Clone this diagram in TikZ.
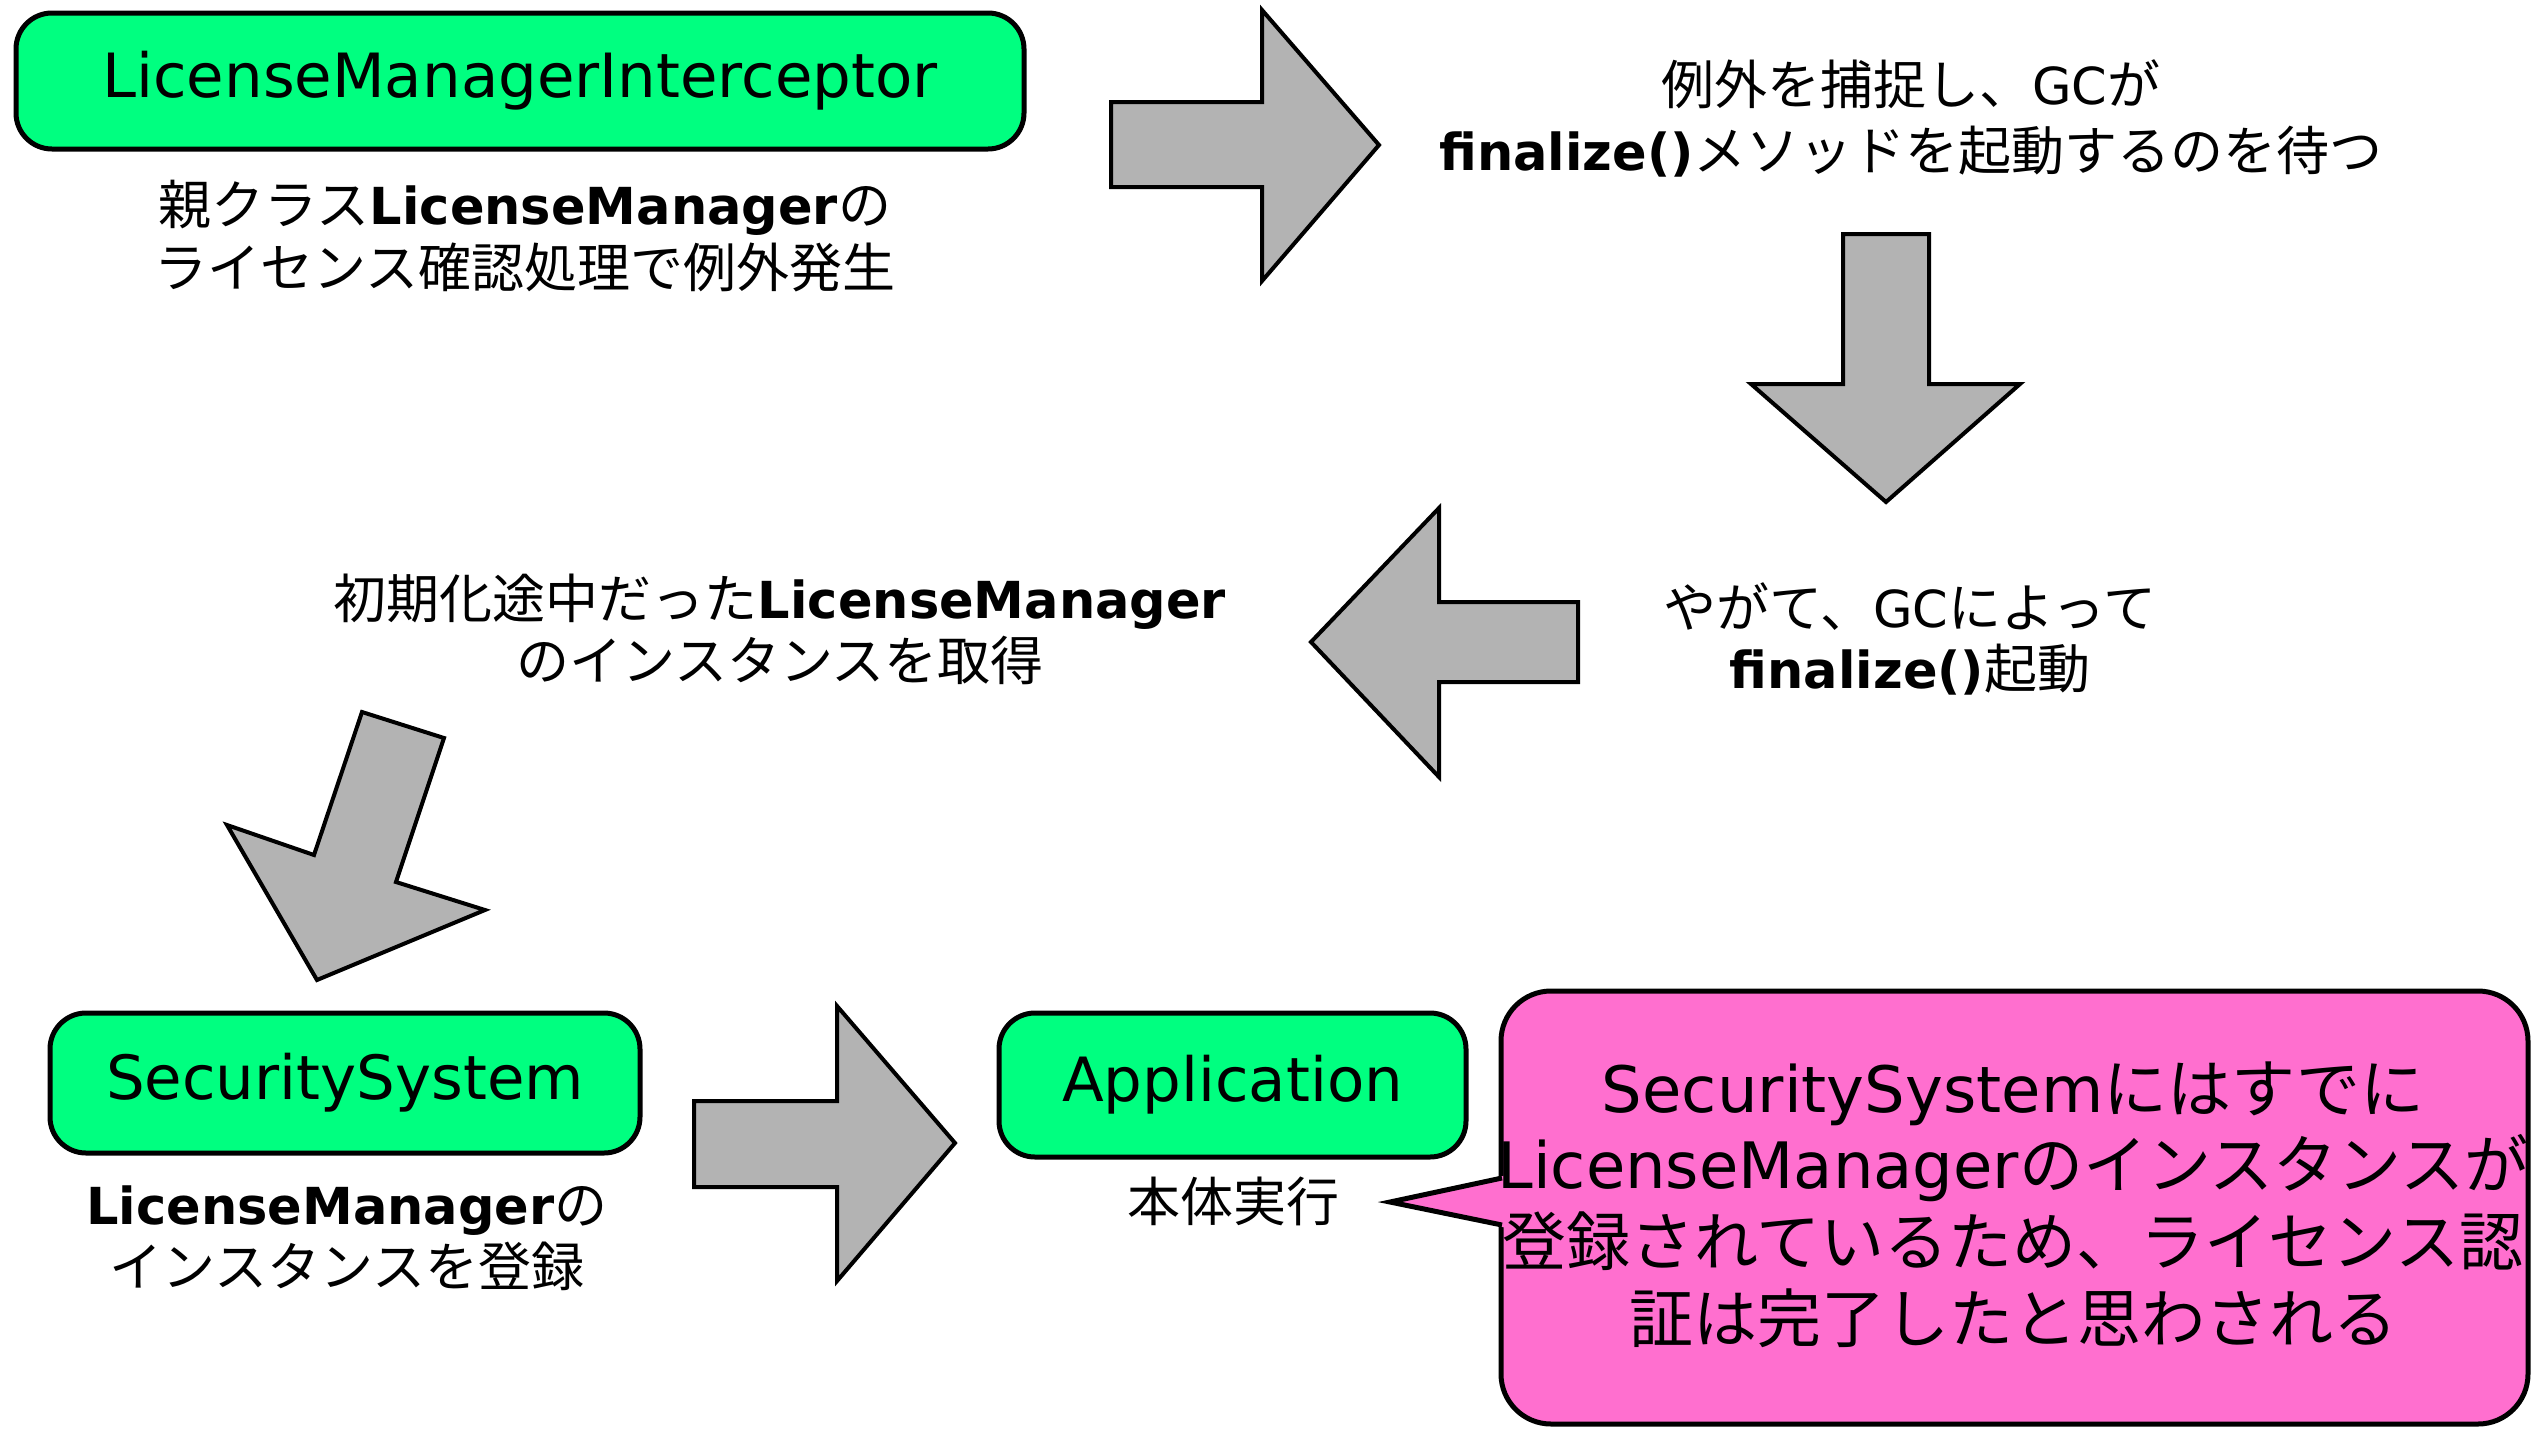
\documentclass[tikz,border=0pt]{standalone}
\usepackage{fontspec}
\setmainfont{DejaVu Sans}
\newfontfamily\jp{Noto Sans CJK JP}
\def\jfs{51}
\newcommand\J[1]{{\fontsize{\jfs}{62}\selectfont\jp #1}}
\definecolor{boxgreen}{RGB}{0,255,128}
\definecolor{calloutpink}{RGB}{255,111,207}
\definecolor{arrowgray}{RGB}{179,179,179}
\begin{document}
\begin{tikzpicture}[x=1pt,y=-1pt,
  greenbox/.style={draw=black, line width=5pt, fill=boxgreen, rounded corners=36pt, inner sep=0pt, font=\fontsize{61}{73}\selectfont},
  blockarrow/.style={draw=black, line width=4pt, fill=arrowgray, line join=miter},
  lbl/.style={anchor=base, inner sep=0pt, font=\fontsize{51}{62}\selectfont\def\jfs{53}},
  clbl/.style={anchor=base, inner sep=0pt, font=\fontsize{64}{77}\selectfont\def\jfs{64}}]
\useasboundingbox (0,0) rectangle (2533,1428);
\fill[white] (0,0) rectangle (2533,1428);

% boxes
\node[greenbox, minimum width=1008pt, minimum height=136pt] (lmi) at (520,81) {LicenseManagerInterceptor};
\node[greenbox, minimum width=590pt, minimum height=140pt] (sec) at (345,1083) {SecuritySystem};
\node[greenbox, minimum width=467pt, minimum height=144pt] (app) at (1232.5,1085) {Application};

% callout
\node[draw=black, line width=5pt, fill=calloutpink, rounded corners=50pt, minimum width=1027pt, minimum height=433pt, inner sep=0pt] (call) at (2014.5,1207.5) {};
\coordinate (ctip) at (1390,1202);
\fill[calloutpink] (ctip) -- (1507,1175) -- (1507,1228) -- cycle;
\draw[line width=5pt, line join=miter] (1502,1178) -- (ctip) -- (1502,1225);

% block arrows
\draw[blockarrow] (1111,102) -- (1262,102) -- (1262,10) -- (1379,145) -- (1262,281) -- (1262,187) -- (1111,187) -- cycle;
\draw[blockarrow] (1843,234) -- (1929,234) -- (1929,384) -- (2020,384) -- (1886,502) -- (1751,384) -- (1843,384) -- cycle;
\draw[blockarrow] (1578,602) -- (1439,602) -- (1439,508) -- (1311,642) -- (1439,777) -- (1439,682) -- (1578,682) -- cycle;
\draw[blockarrow] (362,712) -- (444,738) -- (396,882) -- (485,910) -- (317,980) -- (227,825) -- (314,855) -- cycle;
\draw[blockarrow] (694,1101) -- (837,1101) -- (837,1006) -- (955,1143) -- (837,1281) -- (837,1187) -- (694,1187) -- cycle;

% labels
\node[lbl] (l1a) at (525,224) {\J{親クラス}\textbf{LicenseManager}\J{の}};
\node[lbl] (l1b) at (525,287) {\J{ライセンス確認処理で例外発生}};
\node[lbl] (l2a) at (1911,104) {\J{例外を捕捉し、}GC\J{が}};
\node[lbl] (l2b) at (1911,170) {\textbf{finalize()}\J{メソッドを起動するのを待つ}};
\node[lbl] (l3a) at (1910,627) {\J{やがて、}GC\J{によって}};
\node[lbl] (l3b) at (1910,688) {\textbf{finalize()}\J{起動}};
\node[lbl] (l4a) at (780,618) {\J{初期化途中だった}\textbf{LicenseManager}};
\node[lbl] (l4b) at (780,680) {\J{のインスタンスを取得}};
\node[lbl] (l5a) at (347,1224) {\textbf{LicenseManager}\J{の}};
\node[lbl] (l5b) at (347,1286) {\J{インスタンスを登録}};
\node[lbl] (l6) at (1233,1221) {\J{本体実行}};

% callout text
\node[clbl] (c1) at (2013,1112) {SecuritySystem\J{にはすでに}};
\node[clbl] (c2) at (2013,1188) {LicenseManager\J{のインスタンスが}};
\node[clbl] (c3) at (2013,1265) {\J{登録されているため、ライセンス認}};
\node[clbl] (c4) at (2013,1342) {\J{証は完了したと思わされる}};
\end{tikzpicture}
\end{document}
